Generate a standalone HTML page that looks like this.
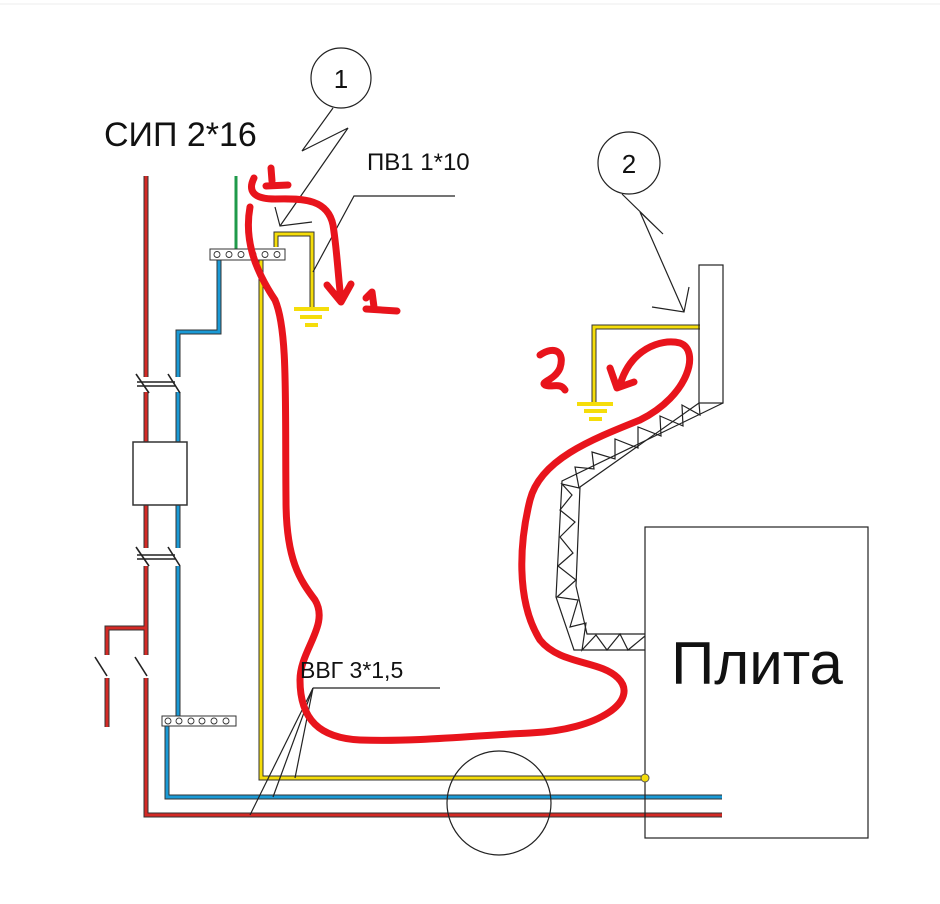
<!DOCTYPE html>
<html><head><meta charset="utf-8"><style>html,body{margin:0;padding:0;background:#fff}svg{display:block}</style></head>
<body>
<svg width="940" height="904" viewBox="0 0 940 904" xmlns="http://www.w3.org/2000/svg" font-family="Liberation Sans, sans-serif">
<rect width="940" height="904" fill="#fff"/>
<line x1="0" y1="4" x2="940" y2="4" stroke="#eee"/>
<g fill="none" stroke-linecap="butt">
<g stroke="#333" stroke-width="5">
<polyline points="146,176 146,377"/><polyline points="146,392 146,442"/><polyline points="146,505 146,548"/>
<polyline points="146,566 146,655"/><polyline points="107,655 107,628 146,628"/><polyline points="107,678 107,727"/>
<polyline points="146,678 146,815 722,815"/>
<polyline points="178,377 178,332 219,332 219,260"/><polyline points="178,392 178,442"/><polyline points="178,505 178,548"/>
<polyline points="178,566 178,716"/><polyline points="167,726 167,797 722,797"/>
<polyline points="261,260 261,778 645,778"/>
<polyline points="276,247 276,234 312,234 312,307"/>
<polyline points="594,403 594,327 700,327"/>
</g>
<g stroke="#d42a25" stroke-width="3">
<polyline points="146,176 146,377"/><polyline points="146,392 146,442"/><polyline points="146,505 146,548"/>
<polyline points="146,566 146,655"/><polyline points="107,655 107,628 146,628"/><polyline points="107,678 107,727"/>
<polyline points="146,678 146,815 722,815"/>
</g>
<g stroke="#1a9ad6" stroke-width="3">
<polyline points="178,377 178,332 219,332 219,260"/><polyline points="178,392 178,442"/><polyline points="178,505 178,548"/>
<polyline points="178,566 178,716"/><polyline points="167,726 167,797 722,797"/>
</g>
<g stroke="#f5dd0a" stroke-width="3">
<polyline points="261,260 261,778 645,778"/>
<polyline points="276,247 276,234 312,234 312,307"/>
<polyline points="594,403 594,327 700,327"/>
</g>
<line x1="236" y1="176" x2="236" y2="250" stroke="#1f9a4a" stroke-width="3"/>
<g stroke="#f5dd0a" stroke-width="4">
<line x1="294" y1="309" x2="329" y2="309"/><line x1="300" y1="317" x2="322" y2="317"/><line x1="305" y1="325" x2="318" y2="325"/>
<line x1="577" y1="404" x2="613" y2="404"/><line x1="584" y1="411" x2="607" y2="411"/><line x1="589" y1="419" x2="602" y2="419"/>
</g>
<g stroke="#222" stroke-width="1.6">
<line x1="136" y1="374" x2="149" y2="393"/><line x1="168" y1="374" x2="180" y2="393"/>
<line x1="137" y1="382" x2="175" y2="382"/><line x1="137" y1="386" x2="175" y2="386"/>
<line x1="136" y1="547" x2="149" y2="566"/><line x1="168" y1="547" x2="180" y2="566"/>
<line x1="137" y1="555" x2="175" y2="555"/><line x1="137" y1="559" x2="175" y2="559"/>
<line x1="95" y1="657" x2="107" y2="676"/><line x1="135" y1="657" x2="147" y2="676"/>
</g>
<rect x="133" y="442" width="54" height="63" fill="#fff" stroke="#333" stroke-width="1.5"/>
<rect x="210" y="249" width="75" height="11" fill="#fff" stroke="#333"/>
<g stroke="#333" stroke-width="0.9"><circle cx="217" cy="254.5" r="3"/><circle cx="229" cy="254.5" r="3"/><circle cx="241" cy="254.5" r="3"/><circle cx="253" cy="254.5" r="3"/><circle cx="265" cy="254.5" r="3"/><circle cx="277" cy="254.5" r="3"/></g>
<rect x="162" y="716" width="74" height="10" fill="#fff" stroke="#333"/>
<g stroke="#333" stroke-width="0.9"><circle cx="168" cy="721" r="3"/><circle cx="179" cy="721" r="3"/><circle cx="191" cy="721" r="3"/><circle cx="202" cy="721" r="3"/><circle cx="214" cy="721" r="3"/><circle cx="226" cy="721" r="3"/></g>
<g stroke="#222" stroke-width="1.2">
<circle cx="341" cy="78" r="30"/>
<polyline points="333,108 302,151 348,128 280,226"/>
<polyline points="275,207 280,226 312,222"/>
<polyline points="455,196 354,196 313,272"/>
<circle cx="629" cy="163" r="31"/>
<polyline points="622,194 663,234 640,212 684,312"/>
<polyline points="652,307 684,312 689,287"/>
<polyline points="313,688 440,688"/>
<line x1="313" y1="688" x2="295" y2="778"/><line x1="313" y1="688" x2="273" y2="797"/><line x1="313" y1="688" x2="250" y2="815"/>
<circle cx="499" cy="803" r="52"/>
<rect x="645" y="527" width="223" height="311" fill="none"/>
<rect x="699" y="265" width="24" height="138"/>
<polyline points="723,403 562,481 556,597 574,650 645,650"/>
<polyline points="699,403 580,487 576,586 587,634 645,634"/>
<polyline points="699,403 700,415 682,405 683,426 660,416 661,436 638,427 638,448 615,439 615,459 592,452 594,469 575,467 579,488 562,484 572,495 560,510 575,522 560,537 573,553 558,566 576,580 557,597 578,600 570,627 586,623 582,650 596,635 607,650 620,634 628,650 645,636"/>
</g>
<circle cx="645" cy="778" r="4" fill="#f5dd0a" stroke="#555" stroke-width="1"/>
<g stroke="#e8141c" stroke-width="7" stroke-linecap="round" stroke-linejoin="round">
<path d="M254,178 C248,190 252,199 275,199 C305,198 328,200 333,225 C337,250 338,275 341,300"/>
<path d="M327,285 L341,302 L351,284"/>
<path d="M271,168 L272,181 M266,186 L288,185"/>
<path d="M366,298 L372,292 L374,307 M366,309 L397,311"/>
<path d="M250,207 C244,240 255,270 275,300 C288,330 285,400 286,500 C286,560 300,580 315,600 C330,625 300,650 300,680 C300,720 320,738 360,740 C420,742 480,735 530,733 C600,730 640,700 618,678 C600,660 560,665 540,640 C515,600 520,540 530,500 C540,460 590,440 640,420 C690,395 700,350 680,343 C660,338 630,350 620,385"/>
<path d="M610,368 L617,388 L634,382"/>
<path d="M540,355 C555,345 565,352 560,368 C555,380 540,382 545,385 C552,388 560,382 565,390"/>
</g>
</g>
<g fill="#111">
<text x="104" y="146" font-size="34">СИП 2*16</text>
<text x="367" y="170" font-size="24">ПВ1 1*10</text>
<text x="341" y="88" font-size="26" text-anchor="middle">1</text>
<text x="629" y="173" font-size="26" text-anchor="middle">2</text>
<text x="300" y="678" font-size="23">ВВГ 3*1,5</text>
<text x="757" y="684" font-size="60" text-anchor="middle">Плита</text>
</g>
</svg>
</body></html>
